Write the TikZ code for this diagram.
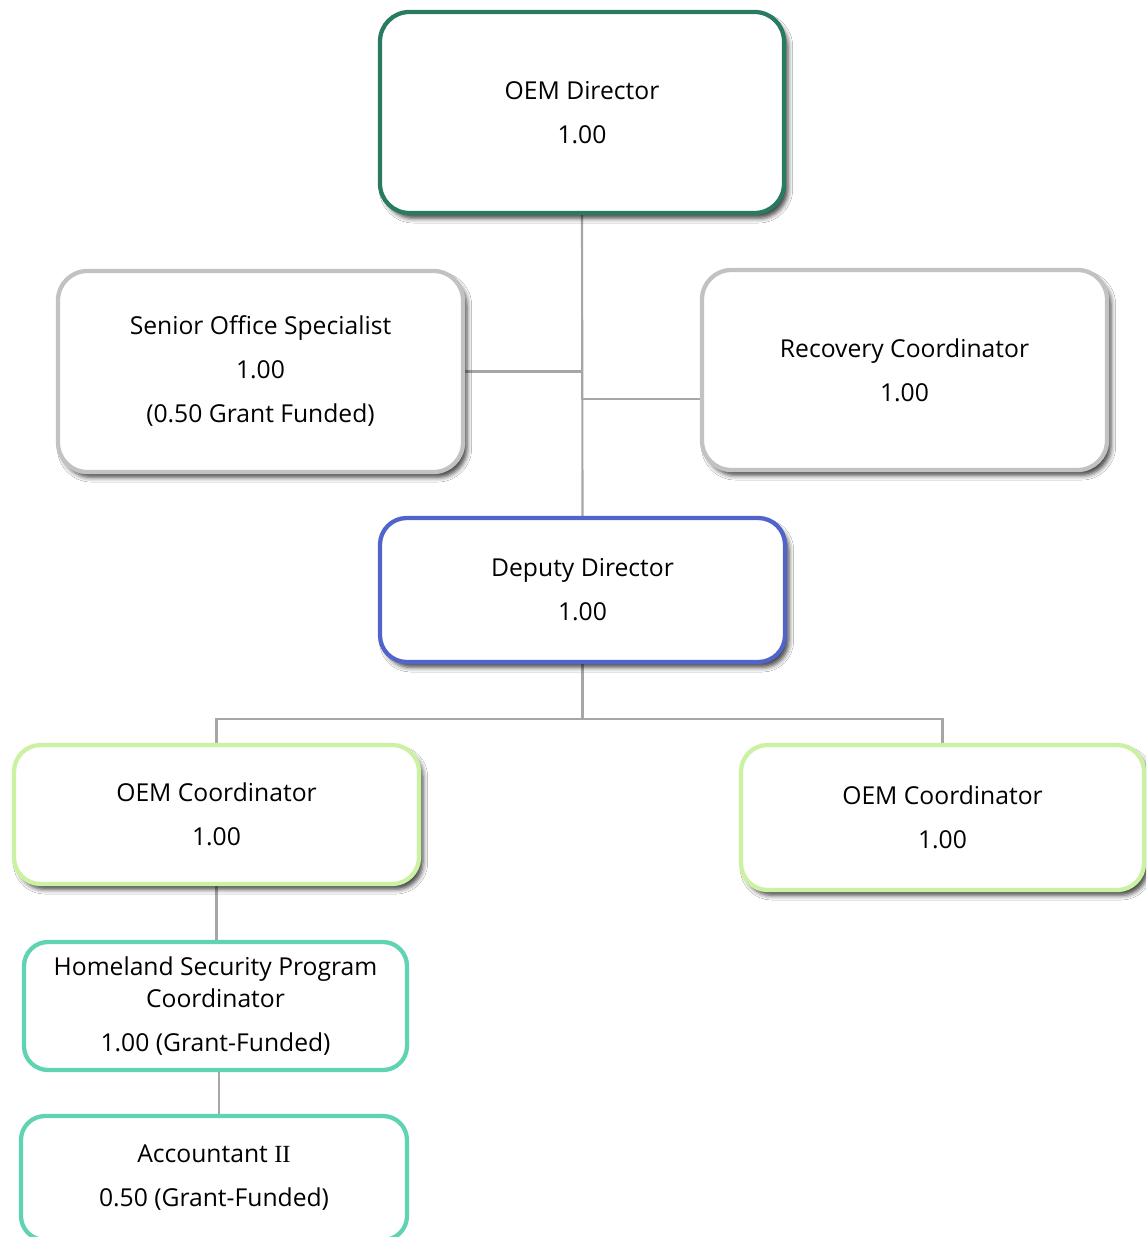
\documentclass[tikz,border=0pt]{standalone}
\usepackage{fontspec}
\setmainfont{Open Sans}
\newfontfamily\serifii{Liberation Serif}
\usetikzlibrary{shadows.blur,backgrounds,calc}
\definecolor{cdir}{HTML}{287A62}
\definecolor{cgray}{HTML}{C2C2C2}
\definecolor{cblue}{HTML}{5064CA}
\definecolor{clgreen}{HTML}{CBF2A2}
\definecolor{cteal}{HTML}{60D3B2}
\definecolor{cline}{HTML}{A6A6A6}
\tikzset{
  box/.style={draw, fill=white, line width=3.2pt, align=center,
    font=\fontsize{18.5}{24}\selectfont, text=black},
  sbox/.style={box,
    blur shadow={shadow xshift=3pt, shadow yshift=-4pt, shadow blur radius=3.5pt, shadow opacity=75}},
  conn/.style={draw=cline, line width=1.6pt}
}
\begin{document}
\begin{tikzpicture}[x=0.75pt,y=-0.75pt]
\useasboundingbox (0,0) rectangle (1146,1237);
\clip (0,0) rectangle (1146,1237);
\node[sbox, draw=cdir, rounded corners=22pt, minimum width=404*0.75pt, minimum height=201*0.75pt] (dir) at (582,112.5) {OEM Director\\[9pt]1.00};
\node[sbox, draw=cgray, rounded corners=22pt, minimum width=405*0.75pt, minimum height=201*0.75pt] (sos) at (260.5,371.5) {Senior Office Specialist\\[9pt]1.00\\[9pt](0.50 Grant Funded)};
\node[sbox, draw=cgray, rounded corners=22pt, minimum width=405*0.75pt, minimum height=200*0.75pt] (rec) at (904.5,370) {Recovery Coordinator\\[9pt]1.00};
\node[sbox, draw=cblue, rounded corners=20pt, minimum width=405*0.75pt, minimum height=144*0.75pt] (dep) at (582.5,590) {Deputy Director\\[9pt]1.00};
\node[sbox, draw=clgreen, rounded corners=20pt, minimum width=405*0.75pt, minimum height=139*0.75pt] (oc1) at (216.5,814.5) {OEM Coordinator\\[9pt]1.00};
\node[sbox, draw=clgreen, rounded corners=20pt, minimum width=403*0.75pt, minimum height=145*0.75pt] (oc2) at (942.5,817.5) {OEM Coordinator\\[9pt]1.00};
\node[box, draw=cteal, rounded corners=18pt, minimum width=383*0.75pt, minimum height=128*0.75pt] (hs) at (215.5,1006) {Homeland Security Program\\Coordinator\\[9pt]1.00 (Grant-Funded)};
\node[box, draw=cteal, rounded corners=18pt, minimum width=386*0.75pt, minimum height=124*0.75pt] (acc) at (214,1178) {Accountant {\serifii II}\\[9pt]0.50 (Grant-Funded)};
\begin{scope}[on background layer]
\fill[white] (0,0) rectangle (1146,1237);
\draw[conn] (dir.south) -- (dep.north);
\draw[conn] (sos.east) -- (sos.east -| dir.south);
\coordinate (recj) at ($(rec.west)+(0,29)$);
\draw[conn] (recj) -- (recj -| dir.south);
\draw[conn] (dep.south) -- ++(0,55) -| (oc1.north);
\draw[conn] (dep.south) -- ++(0,55) -| (oc2.north);
\draw[conn] (oc1.south) -- (oc1.south |- hs.north);
\draw[conn] ($(hs.south)+(3.5,0)$) -- ($(hs.south |- acc.north)+(3.5,0)$);
\end{scope}
\end{tikzpicture}
\end{document}
